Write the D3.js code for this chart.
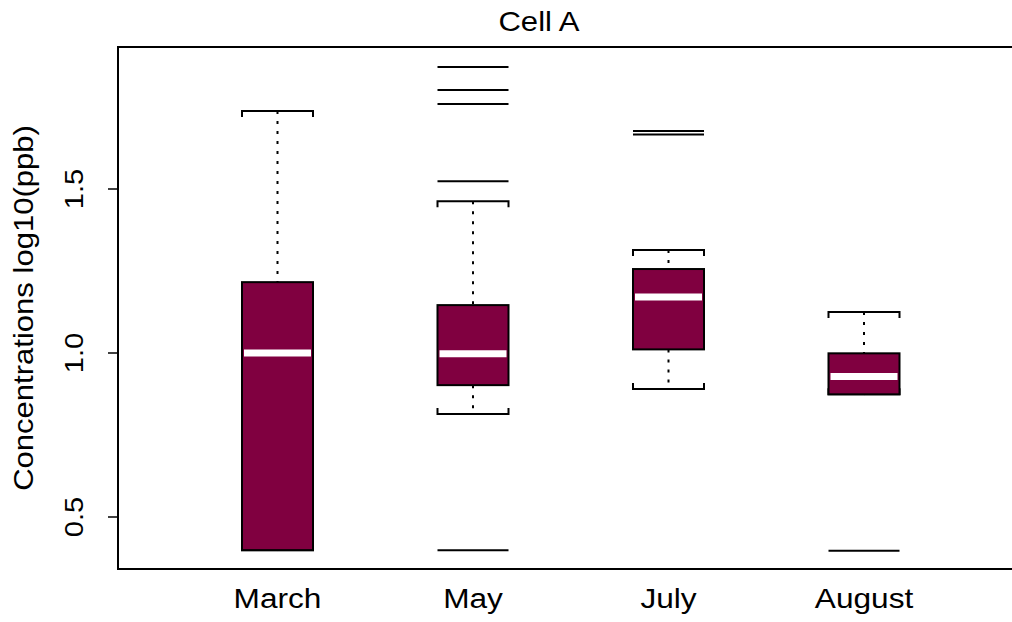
<!DOCTYPE html>
<html>
<head>
<meta charset="utf-8">
<script src="https://cdn.jsdelivr.net/npm/d3@7"></script>
<style>
  body { margin: 0; background: #fff; }
  text { font-family: "Liberation Sans", Arial, Helvetica, sans-serif; fill: #000; }
</style>
</head>
<body>
<script>
// box statistics (log10 ppb)
var months = ["March", "May", "July", "August"];
var whiskerHigh = [1.738, 1.463, 1.314, 1.125];
var q3 = [1.216, 1.146, 1.256, 0.999];
var medians = [1.0, 0.998, 1.171, 0.928];
var q1 = [0.399, 0.902, 1.011, 0.874];
var whiskerLow = [0.399, 0.814, 0.890, 0.874];
var outliers = [[], [1.872, 1.802, 1.759, 1.524, 0.399], [1.677, 1.666], [0.397]];
var yTicks = [0.5, 1.0, 1.5];

var width = 1012, height = 622;
var plot = {left: 118, top: 47, bottom: 569, right: 1012};
var stretch = 1.15; // text in the original is wider than plain Arial

var svg = d3.select("body").append("svg")
    .attr("width", width)
    .attr("height", height);

// set the ranges
var x = d3.scaleLinear().domain([1, 4]).range([277.5, 864]);
var y = d3.scaleLinear().domain([0.5, 1.5]).range([517, 189]);
var halfBox = 0.1816; // in x units

var data = months.map(function(m, i) {
  return {name: m, pos: i + 1, hi: whiskerHigh[i], q3: q3[i], med: medians[i],
          q1: q1[i], lo: whiskerLow[i], out: outliers[i]};
});

// frame: left, top, bottom
svg.append("path")
    .attr("d", "M" + plot.right + "," + plot.top + "H" + plot.left + "V" + plot.bottom + "H" + plot.right)
    .attr("fill", "none")
    .attr("stroke", "#000")
    .attr("stroke-width", 2);

// y axis ticks
var yAxis = svg.append("g");
yTicks.forEach(function(t) {
  yAxis.append("line")
      .attr("x1", plot.left - 10).attr("x2", plot.left)
      .attr("y1", y(t)).attr("y2", y(t))
      .attr("stroke", "#000").attr("stroke-width", 1.5);
  yAxis.append("text")
      .attr("transform", "translate(" + 83 + "," + y(t) + ") rotate(-90) scale(1.12,1)")
      .attr("text-anchor", "middle")
      .style("font-size", "26px")
      .text(t.toFixed(1));
});

// y title
svg.append("text")
    .attr("transform", "translate(33," + 308 + ") rotate(-90) scale(" + stretch + ",1)")
    .attr("text-anchor", "middle")
    .style("font-size", "27px")
    .text("Concentrations log10(ppb)");

// title
svg.append("text")
    .attr("transform", "translate(539,31) scale(" + stretch + ",1)")
    .attr("text-anchor", "middle")
    .style("font-size", "27px")
    .text("Cell A");

// x labels
svg.selectAll(".xlab")
    .data(data)
  .enter().append("text")
    .attr("class", "xlab")
    .attr("transform", function(d) { return "translate(" + x(d.pos) + ",608) scale(" + stretch + ",1)"; })
    .attr("text-anchor", "middle")
    .style("font-size", "27.5px")
    .text(function(d) { return d.name; });

var g = svg.selectAll(".box")
    .data(data)
  .enter().append("g")
    .attr("class", "box");

// whiskers
g.append("line")
    .attr("x1", function(d) { return x(d.pos); })
    .attr("x2", function(d) { return x(d.pos); })
    .attr("y1", function(d) { return y(d.hi); })
    .attr("y2", function(d) { return y(d.q3); })
    .attr("stroke", "#000").attr("stroke-width", 2)
    .attr("stroke-dasharray", "3,7");
g.append("line")
    .attr("x1", function(d) { return x(d.pos); })
    .attr("x2", function(d) { return x(d.pos); })
    .attr("y1", function(d) { return y(d.q1); })
    .attr("y2", function(d) { return y(d.lo); })
    .attr("stroke", "#000").attr("stroke-width", 2)
    .attr("stroke-dasharray", "3,7");

// staples with small end ticks pointing at the box
function staple(d, v, dir) {
  var x0 = x(d.pos - halfBox), x1 = x(d.pos + halfBox), yy = y(v);
  return "M" + x0 + "," + (yy + dir * 6) + "V" + yy + "H" + x1 + "V" + (yy + dir * 6);
}
g.append("path")
    .attr("d", function(d) { return staple(d, d.hi, 1); })
    .attr("fill", "none").attr("stroke", "#000").attr("stroke-width", 2);
g.append("path")
    .attr("d", function(d) { return staple(d, d.lo, -1); })
    .attr("fill", "none").attr("stroke", "#000").attr("stroke-width", 2);

// boxes
g.append("rect")
    .attr("x", function(d) { return x(d.pos - halfBox); })
    .attr("width", function(d) { return x(d.pos + halfBox) - x(d.pos - halfBox); })
    .attr("y", function(d) { return y(d.q3); })
    .attr("height", function(d) { return y(d.q1) - y(d.q3); })
    .attr("fill", "#800040")
    .attr("stroke", "#000")
    .attr("stroke-width", 2);

// medians
g.append("line")
    .attr("x1", function(d) { return x(d.pos - halfBox) + 2; })
    .attr("x2", function(d) { return x(d.pos + halfBox) - 2; })
    .attr("y1", function(d) { return y(d.med); })
    .attr("y2", function(d) { return y(d.med); })
    .attr("stroke", "#fff").attr("stroke-width", 7);

// outliers drawn as box-wide lines
g.selectAll(".out")
    .data(function(d) { return d.out.map(function(v) { return {pos: d.pos, v: v}; }); })
  .enter().append("line")
    .attr("class", "out")
    .attr("x1", function(d) { return x(d.pos - halfBox); })
    .attr("x2", function(d) { return x(d.pos + halfBox); })
    .attr("y1", function(d) { return y(d.v); })
    .attr("y2", function(d) { return y(d.v); })
    .attr("stroke", "#000").attr("stroke-width", 2);
</script>
</body>
</html>
